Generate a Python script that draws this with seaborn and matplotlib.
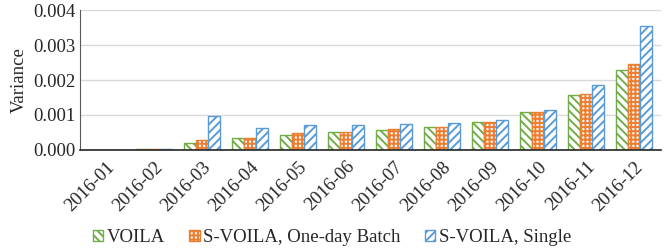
import pandas as pd
import seaborn as sns
import matplotlib.pyplot as plt

# Data
months = ["2016-01", "2016-02", "2016-03", "2016-04", "2016-05", "2016-06",
          "2016-07", "2016-08", "2016-09", "2016-10", "2016-11", "2016-12"]
voila = [0.00001, 0.00003, 0.00019, 0.00033, 0.00044, 0.00050,
         0.00058, 0.00066, 0.00079, 0.00108, 0.00158, 0.00229]
svoila_batch = [0.00001, 0.00003, 0.00029, 0.00035, 0.00048, 0.00052,
                0.00059, 0.00067, 0.00079, 0.00108, 0.00159, 0.00245]
svoila_single = [0.00001, 0.00004, 0.00098, 0.00062, 0.00071, 0.00071,
                 0.00073, 0.00076, 0.00087, 0.00114, 0.00185, 0.00355]
series = ["VOILA", "S-VOILA, One-day Batch", "S-VOILA, Single"]

df = pd.DataFrame({
    "month": months * 3,
    "variance": voila + svoila_batch + svoila_single,
    "method": [s for s in series for _ in months],
})

kleuren = ["#70ad47", "#ed7d31", "#5b9bd5"]
hatches = ["\\\\\\\\", "++++", "////"]
fs = 13.5

sns.set_style("white")
plt.rcParams["font.family"] = ["Liberation Serif", "DejaVu Serif"]
plt.rcParams["hatch.linewidth"] = 1.4

fig, ax = plt.subplots(figsize=(6.64, 2.52), dpi=100)
sns.barplot(data=df, x="month", y="variance", hue="method", hue_order=series,
            palette=kleuren, width=0.75, gap=0, ax=ax, legend=True)

for cont, kl, h in zip(ax.containers, kleuren, hatches):
    for bar in cont:
        bar.set_facecolor("white")
        bar.set_edgecolor(kl)
        bar.set_hatch(h)
        bar.set_linewidth(1.0)

ax.set_ylim(0, 0.004)
ax.set_yticks([0, 0.001, 0.002, 0.003, 0.004])
ax.set_yticklabels([f"{v:.3f}" for v in [0, 0.001, 0.002, 0.003, 0.004]], fontsize=fs)
ax.set_xlabel("")
ax.set_ylabel("Variance", fontsize=fs, labelpad=4)
ax.set_xlim(-0.55, 11.55)
plt.xticks(rotation=45, ha="right", rotation_mode="anchor", fontsize=fs)
ax.tick_params(axis="x", length=0, pad=6)
ax.tick_params(axis="y", length=0, pad=3)
ax.grid(axis="y", color="#d9d9d9", linewidth=1)
ax.set_axisbelow(True)
for side in ["top", "right"]:
    ax.spines[side].set_visible(False)
ax.spines["left"].set_color("#595959")
ax.spines["bottom"].set_color("#262626")
ax.spines["bottom"].set_linewidth(1.2)

handles, labels = ax.get_legend_handles_labels()
for hd, kl, h in zip(handles, kleuren, hatches):
    hd.set_facecolor("white")
    hd.set_edgecolor(kl)
    hd.set_hatch(h)
ax.get_legend().remove()
fig.legend(handles, labels, loc="center", bbox_to_anchor=(0.5, 0.056), ncol=3,
           frameon=False, fontsize=fs, handlelength=0.55, handleheight=0.55,
           handletextpad=0.2, columnspacing=1.3)

plt.subplots_adjust(left=0.12, right=0.995, top=0.96, bottom=0.405)
plt.savefig("out.png", dpi=100)
